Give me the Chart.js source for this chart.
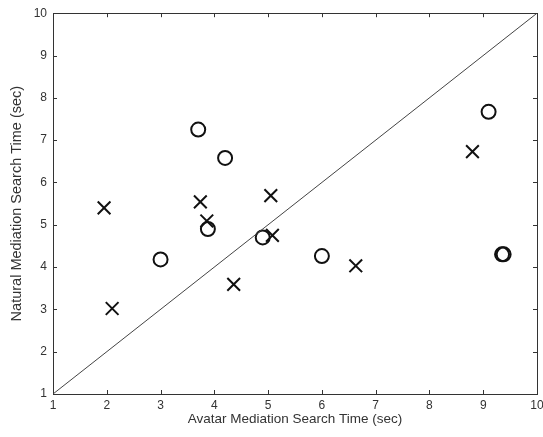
<!DOCTYPE html>
<html>
<head>
<meta charset="utf-8">
<script src="https://cdn.jsdelivr.net/npm/chart.js@4"></script>
<style>
  html, body { margin: 0; padding: 0; background: #fff; }
  #wrap { width: 543px; height: 437px; }
</style>
</head>
<body>
<div id="wrap"><canvas id="chart"></canvas></div>
<script>
// circles (o)
const circleX = [3.0, 3.7, 4.2, 3.88, 4.9, 6.0, 9.1, 9.35, 9.38];
const circleY = [4.18, 7.25, 6.58, 4.9, 4.7, 4.26, 7.67, 4.3, 4.3];
// crosses (x)
const crossX = [1.95, 2.1, 3.74, 3.86, 5.05, 5.08, 4.36, 6.63, 8.8];
const crossY = [5.4, 3.02, 5.54, 5.09, 5.69, 4.75, 3.59, 4.03, 6.73];
// identity line
const lineX = [1, 10];
const lineY = [1, 10];

const toPoints = (xs, ys) => xs.map((x, i) => ({ x, y: ys[i] }));

// box + inward ticks on all four sides, matlab style
const boxPlugin = {
  id: "box",
  beforeDatasetsDraw(chart) {
    const { ctx, chartArea: a, scales } = chart;
    ctx.save();
    ctx.strokeStyle = "#333";
    ctx.lineWidth = 1;
    ctx.strokeRect(Math.round(a.left) + 0.5, Math.round(a.top) + 0.5, Math.round(a.right - a.left), Math.round(a.bottom - a.top));
    const len = 4;
    ctx.beginPath();
    scales.x.ticks.forEach((t) => {
      const px = Math.round(scales.x.getPixelForValue(t.value)) + 0.5;
      ctx.moveTo(px, a.bottom);
      ctx.lineTo(px, a.bottom - len);
      ctx.moveTo(px, a.top);
      ctx.lineTo(px, a.top + len);
    });
    scales.y.ticks.forEach((t) => {
      const py = Math.round(scales.y.getPixelForValue(t.value)) + 0.5;
      ctx.moveTo(a.left, py);
      ctx.lineTo(a.left + len, py);
      ctx.moveTo(a.right, py);
      ctx.lineTo(a.right - len, py);
    });
    ctx.stroke();
    ctx.restore();
  },
};

Chart.defaults.font.family = "'Liberation Sans', Arial, sans-serif";
Chart.defaults.color = "#333";

new Chart(document.getElementById("chart"), {
  type: "scatter",
  data: {
    datasets: [
      {
        type: "line",
        data: toPoints(lineX, lineY),
        borderColor: "#444",
        borderWidth: 1,
        pointRadius: 0,
        fill: false,
      },
      {
        data: toPoints(circleX, circleY),
        pointStyle: "circle",
        pointRadius: 7,
        borderWidth: 2,
        borderColor: "#111",
        backgroundColor: "rgba(0,0,0,0)",
      },
      {
        data: toPoints(crossX, crossY),
        pointStyle: "crossRot",
        pointRadius: 9,
        borderWidth: 2,
        borderColor: "#111",
      },
    ],
  },
  options: {
    responsive: true,
    maintainAspectRatio: false,
    animation: false,
    layout: { autoPadding: false, padding: { top: 12, right: 0, left: 0, bottom: 0 } },
    plugins: { legend: { display: false }, tooltip: { enabled: false } },
    scales: {
      x: {
        type: "linear",
        min: 1,
        max: 10,
        grid: { display: false, drawTicks: false },
        border: { display: false },
        ticks: { stepSize: 1, padding: 4, font: { size: 12 }, color: "#333" },
        title: {
          display: true,
          text: "Avatar Mediation Search Time (sec)",
          font: { size: 13.5 },
          color: "#333",
          padding: { top: 0, bottom: 10 },
        },
        afterFit: (s) => {
          s.height = 43;
          s.paddingLeft = 0;
          s.paddingRight = 6;
        },
      },
      y: {
        type: "linear",
        min: 1,
        max: 10,
        grid: { display: false, drawTicks: false },
        border: { display: false },
        ticks: { stepSize: 1, padding: 6, font: { size: 12 }, color: "#333" },
        title: {
          display: true,
          text: "Natural Mediation Search Time (sec)",
          font: { size: 14.5 },
          color: "#333",
          padding: { top: 8, bottom: 0 },
        },
        afterFit: (s) => { s.width = 53; },
      },
    },
  },
  plugins: [boxPlugin],
});
</script>
</body>
</html>
